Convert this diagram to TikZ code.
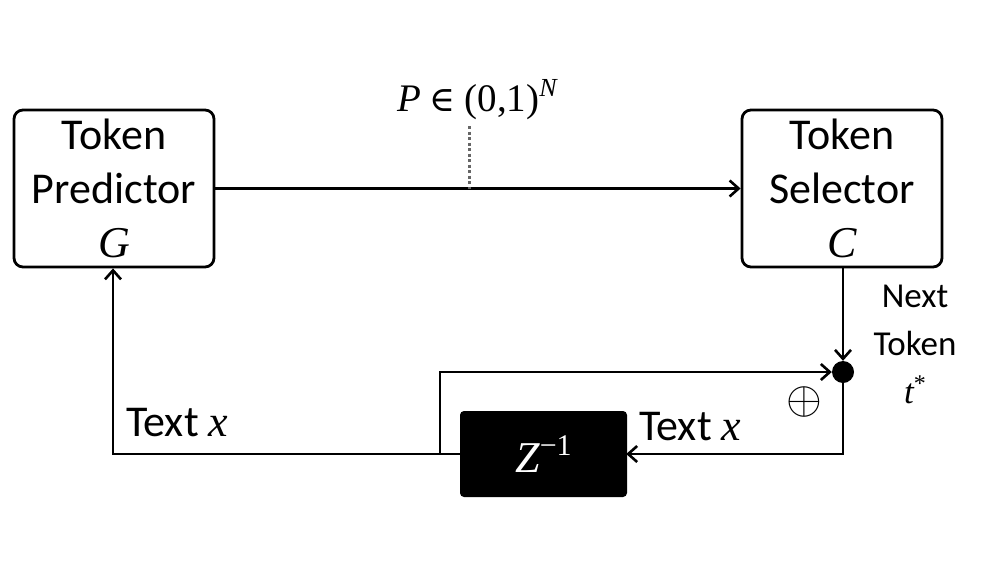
\RequirePackage{fix-cm}
\documentclass[tikz,border=0pt]{standalone}
\usepackage{fontspec}
\setmainfont{Carlito}
\newfontfamily\mathserif{Liberation Serif}
\newfontfamily\symserif{DejaVu Serif}
\usetikzlibrary{arrows.meta}
\newcommand{\mvar}[1]{{\mathserif\itshape #1}}
\begin{document}
\begin{tikzpicture}[x=1pt,y=-1pt,
  box/.style={draw,line width=2.8pt,rounded corners=9pt,minimum width=200pt,minimum height=157pt,align=center,inner sep=0pt,
    font=\fontsize{44}{54}\selectfont},
  conn/.style={line width=2.8pt,-{Straight Barb[length=9pt,width=16pt,line width=2.6pt]}},
  plain/.style={line width=2.8pt},
  lbl/.style={inner sep=0pt,font=\fontsize{44}{54}\selectfont}]
\useasboundingbox (0,0) rectangle (996,560);
\node[box] (pred) at (114,188.5) {Token\\Predictor\\\mvar{G}};
\node[box] (sel) at (842,188.5) {Token\\Selector\\\mvar{C}};
\node[circle,fill=black,minimum size=22pt,inner sep=0pt] (dot) at (843,372) {};
\node[fill=black,rounded corners=4pt,minimum width=167pt,minimum height=86pt,inner sep=0pt,text=white,
  font=\fontsize{44}{54}\selectfont] (z) at (543.5,454) {\mvar{Z}\raisebox{17pt}{\fontsize{30}{36}\selectfont\mathserif −1}};
\coordinate (mid) at (469,188.5);
\coordinate (dtop) at (469,126);
\coordinate (br) at (440,454);
\coordinate (brtop) at (440,372);
\coordinate (dbot) at (843,454);
\coordinate (pbot) at (113,454);
\draw[conn] (pred.east) -- (sel.west);
\draw[black!60,line width=3pt,dash pattern=on 3pt off 2.5pt] (dtop) -- (mid);
\node[lbl,font=\fontsize{39}{46}\selectfont] (plab) at (477,100)
  {\mvar{P} {\symserif\fontsize{35}{40}\selectfont ∈} {\mathserif (0,1)}\raisebox{15pt}{\fontsize{26}{30}\selectfont\mvar{N}}};
\draw[conn] (sel.south -| dot) -- (dot.north);
\draw[conn,shorten >=-1pt] (dot.south) -- (dbot) -- (z.east);
\draw[plain] (z.west) -- (br);
\draw[conn] (br) -- (pbot) -- (pred.south -| pbot);
\draw[conn] (br) -- (brtop) -- (dot.west);
\node[lbl,anchor=base west] (t1) at (126,436) {Text \mvar{x}};
\node[lbl,anchor=base west] (t2) at (639,440) {Text \mvar{x}};
\node[lbl,font=\fontsize{46}{50}\selectfont] (op) at (804,402) {$\oplus$};
\node[lbl,align=center,font=\fontsize{35}{48}\selectfont,anchor=north] (nt) at (915,285) {Next\\Token\\\mvar{t}\raisebox{12pt}{\fontsize{24}{30}\selectfont\mathserif *}};
\end{tikzpicture}
\end{document}
